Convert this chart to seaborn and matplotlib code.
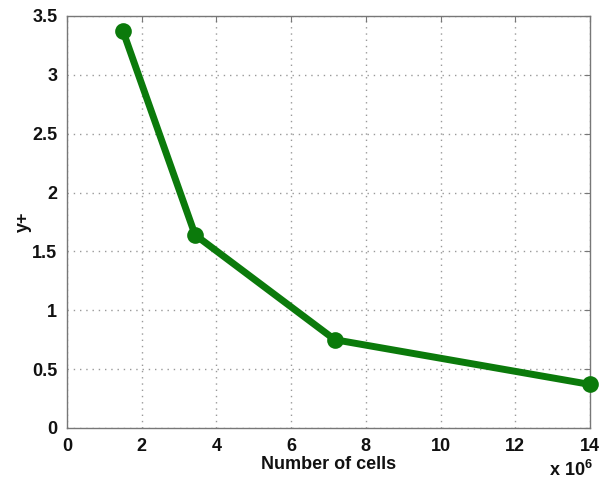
import matplotlib
matplotlib.use("Agg")
import matplotlib.pyplot as plt
import seaborn as sns
import pandas as pd

cells = [1.5, 3.43, 7.17, 14.0]
yplus = [3.37, 1.64, 0.75, 0.37]
xticks = [0, 2, 4, 6, 8, 10, 12, 14]
yticks = [0, 0.5, 1, 1.5, 2, 2.5, 3, 3.5]
ytick_labels = ["0", "0.5", "1", "1.5", "2", "2.5", "3", "3.5"]

sns.set_style("white")
plt.rcParams['font.family'] = ['Liberation Sans', 'DejaVu Sans']
plt.rcParams['mathtext.fontset'] = 'custom'
plt.rcParams['mathtext.rm'] = 'Liberation Sans:bold'
plt.rcParams['mathtext.bf'] = 'Liberation Sans:bold'
plt.rcParams['mathtext.default'] = 'bf'

df = pd.DataFrame({"cells": cells, "yplus": yplus})

fig = plt.figure(figsize=(6.07, 4.83), dpi=100)
ax = fig.add_axes([67/607, 1-428/483, (590-67)/607, (428-16)/483])

green = "#0b7a0b"
sns.lineplot(data=df, x="cells", y="yplus", ax=ax, color=green, linewidth=5,
             marker="o", markersize=10, markerfacecolor=green,
             markeredgecolor=green, markeredgewidth=2, clip_on=False, zorder=5)

ax.set_xlim(0, 14)
ax.set_ylim(0, 3.5)
ax.set_xticks(xticks)
ax.set_xticklabels([str(t) for t in xticks])
ax.set_yticks(yticks)
ax.set_yticklabels(ytick_labels)
ax.grid(True, linestyle=(0, (1, 3.5)), color="#999999", linewidth=1)
for s in ax.spines.values():
    s.set_color("#777777")
    s.set_linewidth(1)
ax.tick_params(axis="both", direction="in", length=4, color="#777777",
               labelsize=13, pad=7, top=True, right=True, labelcolor="#111111")
for lab in ax.get_xticklabels() + ax.get_yticklabels():
    lab.set_fontweight("bold")

ax.set_xlabel("Number of cells", fontsize=13, fontweight="bold", labelpad=1,
              color="#111111")
ax.set_ylabel("y+", fontsize=13, fontweight="bold", labelpad=0, color="#111111")
fig.text(593/607, 1-480/483, r"x 10$^{6}$", ha="right", va="bottom",
         fontsize=13, fontweight="bold", color="#111111")

fig.savefig("out.png", dpi=100)
